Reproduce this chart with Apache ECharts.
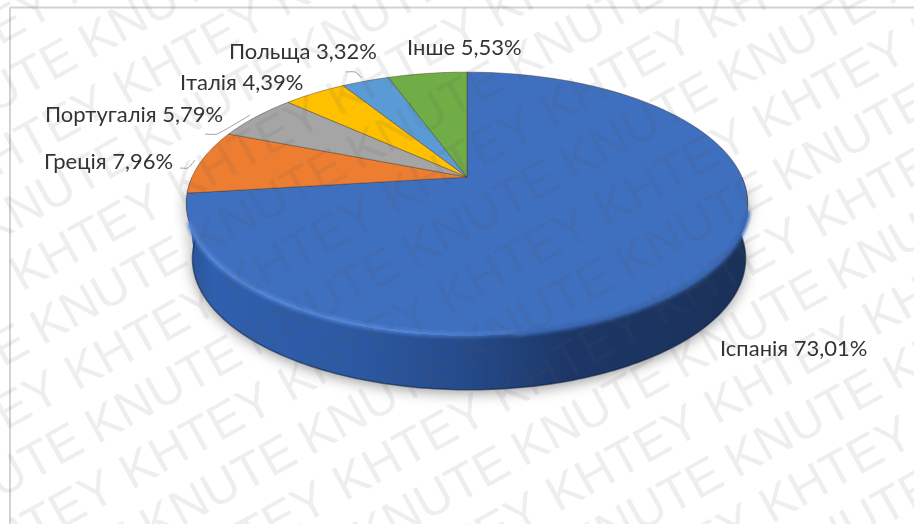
<!DOCTYPE html>
<html>
<head>
<meta charset="utf-8">
<style>html,body{margin:0;padding:0;background:#fff}#chart{width:914px;height:524px}</style>
<script src="https://cdn.jsdelivr.net/npm/echarts@6/dist/echarts.min.js"></script>
</head>
<body>
<div id="chart"></div>
<script>
// Export shares by country, per cent
const countries = ['Іспанія', 'Греція', 'Португалія', 'Італія', 'Польща', 'Інше'];
const shares = [73.01, 7.96, 5.79, 4.39, 3.32, 5.53];
const sliceColors = ['#3f6fbf', '#ed7d31', '#a5a5a5', '#ffc000', '#5b9bd5', '#70ad47'];

// Label text position and leader line for each country
const labelLayout = [
  { x: 720, y: 349, line: null },
  { x: 44, y: 162, line: [[180, 168], [188, 168], [195, 160]] },
  { x: 45, y: 115, line: [[205, 134], [217, 134], [250, 115]] },
  { x: 180, y: 83, line: null },
  { x: 229, y: 52, line: [[345, 72], [355, 72], [362, 78]] },
  { x: 407, y: 48, line: null }
];

// Repeated background marks
const stampWords = ['KHTEY', 'KNUTE'];

// Perspective disc: the centre of the disc lands above the centre of its outline
const disc = { cx: 467, cy: 177, a: 275, b: 126, k: 0.2015, depth: 55, shrink: 0.985, lowerShift: 2 };

function rim(deg, lower) {
  const t = deg * Math.PI / 180;
  const u = Math.sin(t), v = Math.cos(t), w = 1 + disc.k * v;
  const s = lower ? disc.shrink : 1;
  return [
    disc.cx + (lower ? disc.lowerShift : 0) + s * disc.a * u / w,
    disc.cy - disc.b * v / w + (lower ? disc.depth : 0)
  ];
}
function arcPoints(from, to, lower) {
  const n = Math.max(2, Math.ceil(Math.abs(to - from)));
  const pts = [];
  for (let i = 0; i <= n; i++) pts.push(rim(from + (to - from) * i / n, lower));
  return pts;
}
const total = shares.reduce((s, v) => s + v, 0);
function sliceAngles(i) {
  let before = 0;
  for (let j = 0; j < i; j++) before += shares[j];
  return [before / total * 360, (before + shares[i]) / total * 360];
}
function labelText(i) {
  return countries[i] + ' ' + shares[i].toFixed(2).replace('.', ',') + '%';
}

// Only the front half of the rim shows a side wall
function renderWall(params, api) {
  const i = params.dataIndex;
  const [a0, a1] = sliceAngles(i);
  const from = Math.max(a0, 90), to = Math.min(a1, 270);
  if (to <= from) return { type: 'group', children: [] };
  const upper = arcPoints(from, to, false);
  const lower = arcPoints(from, to, true);
  const outline = upper.concat(lower.slice().reverse());
  const wallFill = new echarts.graphic.LinearGradient(185, 0, 748, 0, [
    { offset: 0, color: '#2a5294' },
    { offset: 0.05, color: '#2f5fae' },
    { offset: 0.3, color: '#2c59a3' },
    { offset: 0.5, color: '#254a8a' },
    { offset: 0.68, color: '#1c3767' },
    { offset: 1, color: '#1a3159' }
  ], true);
  return {
    type: 'group',
    children: [
      {
        type: 'polygon',
        shape: { points: outline },
        style: { fill: wallFill, shadowBlur: 14, shadowColor: 'rgba(0,0,0,0.4)', shadowOffsetY: 3 }
      },
      {
        type: 'polyline',
        shape: { points: lower },
        style: { fill: null, stroke: 'rgba(12,28,60,0.55)', lineWidth: 1.5 }
      }
    ]
  };
}

function renderTop(params, api) {
  const i = params.dataIndex;
  const [a0, a1] = sliceAngles(i);
  const points = [[disc.cx, disc.cy]].concat(arcPoints(a0, a1, false));
  const children = [{
    type: 'polygon',
    shape: { points },
    style: { fill: sliceColors[i], stroke: 'rgba(70,50,30,0.55)', lineWidth: 0.8, lineJoin: 'round' }
  }];
  // Soft bevel where the top face turns into the wall
  if (a1 > 180) {
    const bevel = new echarts.graphic.LinearGradient(190, 0, 520, 0, [
      { offset: 0, color: 'rgba(82,132,214,0.95)' },
      { offset: 0.65, color: 'rgba(82,132,214,0.8)' },
      { offset: 1, color: 'rgba(63,111,191,0.35)' }
    ], true);
    children.push({
      type: 'polyline',
      shape: { points: arcPoints(105, 172, false) },
      style: { fill: null, stroke: 'rgba(58,104,180,0.8)', lineWidth: 2, shadowBlur: 4, shadowColor: '#3a68b4' }
    }, {
      type: 'polyline',
      shape: { points: arcPoints(170, 250, false) },
      style: { fill: null, stroke: bevel, lineWidth: 1.6, shadowBlur: 4, shadowColor: 'rgba(82,132,214,0.7)' }
    });
  }
  const spot = labelLayout[i];
  if (spot.line) {
    children.push({
      type: 'polyline',
      shape: { points: spot.line, smooth: 0.2 },
      style: { fill: null, stroke: '#9a9fa6', lineWidth: 1 }
    });
  }
  children.push({
    type: 'text',
    style: {
      text: labelText(i), x: spot.x, y: spot.y,
      fill: '#333333', font: '22px Lato, "Open Sans", sans-serif',
      textAlign: 'left', textVerticalAlign: 'middle'
    }
  });
  return { type: 'group', children };
}

// Diagonal rows of alternating words laid over the whole sheet
function stampElements() {
  const els = [];
  const t = 29 * Math.PI / 180;
  const dir = [Math.cos(t), -Math.sin(t)], nor = [Math.sin(t), Math.cos(t)];
  const rowGap = 56.6, wordGap = 181, fontSize = 50;
  const rowStart = [-106, -114];
  for (let n = -6; n <= 14; n++) {
    const kind = Math.abs(n) % 2;
    const perp = 252.5 + n * rowGap;
    for (let j = -6; j <= 8; j++) {
      const along = rowStart[kind] + j * wordGap - fontSize / 3;
      const x = along * dir[0] + perp * nor[0];
      const y = along * dir[1] + perp * nor[1];
      if (x < -180 || x > 950 || y < -60 || y > 620) continue;
      els.push({
        type: 'text', x, y, rotation: t, z: 100, silent: true,
        style: {
          text: stampWords[kind],
          fill: 'rgba(90,90,90,0.1)',
          font: fontSize + 'px "Liberation Sans", sans-serif',
          textAlign: 'left', textVerticalAlign: 'middle'
        }
      });
    }
  }
  return els;
}

const frame = [
  { type: 'line', z: 1, shape: { x1: 10, y1: 7.5, x2: 914, y2: 7.5 }, style: { stroke: '#d2d2d2', lineWidth: 2 } },
  { type: 'line', z: 1, shape: { x1: 10, y1: 7.5, x2: 10, y2: 524 }, style: { stroke: '#d2d2d2', lineWidth: 2 } }
];

const rows = shares.map((v, i) => ({ name: countries[i], value: v }));
const chart = echarts.init(document.getElementById('chart'));
chart.setOption({
  animation: false,
  backgroundColor: '#fff',
  graphic: { elements: frame.concat(stampElements()) },
  series: [
    { type: 'custom', coordinateSystem: 'none', z: 2, data: rows, renderItem: renderWall, silent: true },
    { type: 'custom', coordinateSystem: 'none', z: 3, data: rows, renderItem: renderTop, silent: true }
  ]
});
</script>
</body>
</html>
